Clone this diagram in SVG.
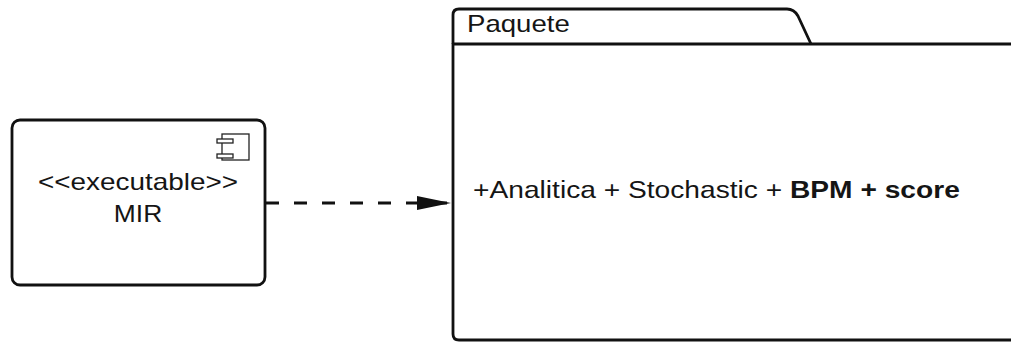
<svg xmlns="http://www.w3.org/2000/svg" width="1011" height="343" viewBox="0 0 1011 343">
<style>
.shape{fill:#fff;stroke:#111;stroke-width:2.8;stroke-linejoin:round}
.icon{fill:#fff;stroke:#222;stroke-width:1.3}
.lbl{font-family:"Liberation Sans",Arial,sans-serif;font-size:24px;fill:#151515}
.b{font-weight:bold}
.conn{fill:none;stroke:#111;stroke-width:2.8;stroke-dasharray:13 15}
</style>
<defs>
<marker id="arrow" markerWidth="36" markerHeight="16" viewBox="0 0 36 16" refX="35" refY="8" orient="auto" markerUnits="userSpaceOnUse">
<path d="M1,1 L35,8 L1,15 Z" fill="#111"/>
</marker>
</defs>
<rect width="1011" height="343" fill="#fff"/>
<g id="package">
<path class="shape" d="M453,44 L453,15 Q453,9 459,9 L787,9 Q794,9 798,16 L811,44"/>
<path class="shape" d="M1020,44 L453,44 L453,334 Q453,340 459,340 L1020,340"/>
<text class="lbl" transform="translate(467,32) scale(1.15,1)">Paquete</text>
<text class="lbl" transform="translate(473,198) scale(1.174,1)">+Analitica + Stochastic + <tspan class="b">BPM + score</tspan></text>
</g>
<g id="mir">
<rect class="shape" x="12" y="120" width="253" height="165" rx="8" ry="8"/>
<rect class="icon" x="222" y="134" width="27" height="26"/>
<rect class="icon" x="217" y="139" width="16" height="4"/>
<rect class="icon" x="217" y="154" width="16" height="4"/>
<text class="lbl" text-anchor="middle" transform="translate(138,189.5) scale(1.162,1)">&lt;&lt;executable&gt;&gt;</text>
<text class="lbl" text-anchor="middle" transform="translate(138,222) scale(1.1,1)">MIR</text>
</g>
<g id="connectors">
<line class="conn" x1="266" y1="203" x2="451" y2="203" marker-end="url(#arrow)"/>
</g>
</svg>
